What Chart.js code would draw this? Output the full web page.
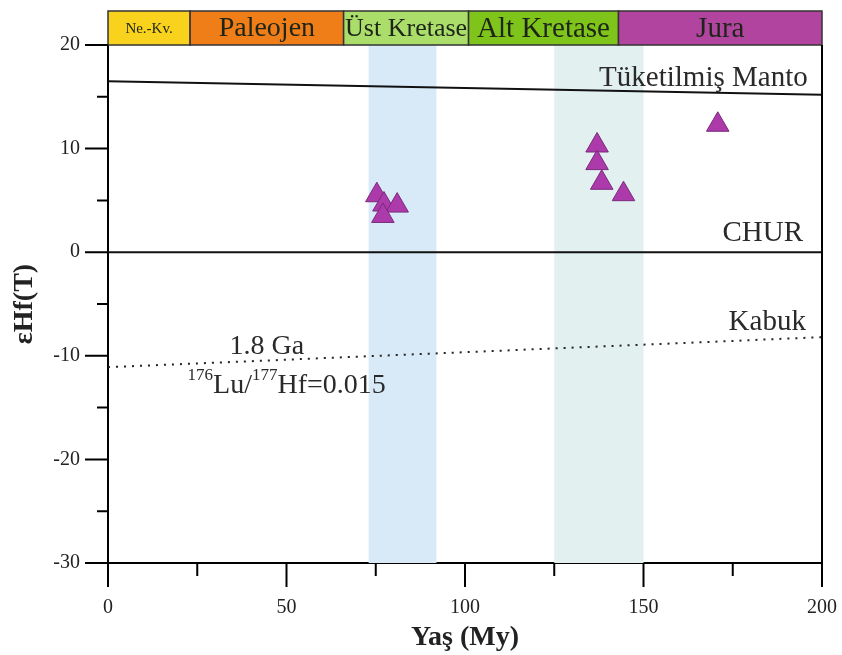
<!DOCTYPE html>
<html>
<head>
<meta charset="utf-8">
<script src="https://cdn.jsdelivr.net/npm/chart.js@4"></script>
<style>
  body { margin: 0; background: #fff; }
  #wrap { width: 842px; height: 655px; }
</style>
</head>
<body>
<div id="wrap"><canvas id="hfChart" width="842" height="655"></canvas></div>
<script>
// geological time bar
const periodNames = ['Ne.-Kv.', 'Paleojen', 'Üst Kretase', 'Alt Kretase', 'Jura'];
const periodFrom = [0, 23, 66, 101, 143];
const periodTo = [23, 66, 101, 143, 200];

// shaded age ranges
const bandFrom = [73, 125];
const bandTo = [92, 150];

// zircon samples
const ageMy = [75.3, 77.3, 81, 77, 137, 137, 138.3, 144.4, 170.8];
const epsilonHf = [5.5, 4.6, 4.5, 3.5, 10.3, 8.6, 6.7, 5.6, 12.3];

// reference evolution lines
const refAges = [0, 200];
const depletedMantle = [16.5, 15.2];
const chur = [0, 0];
const crust = [-11.1, -8.2];

const xTickLabels = [0, 50, 100, 150, 200];
const yTickLabels = [-30, -20, -10, 0, 10, 20];

const periodColors = ['#f8d21c', '#ef7e19', '#aadd69', '#7ec41b', '#b1449f'];
const periodFontSizes = [15, 28, 26, 29, 29];
const bandColors = ['#d8eaf7', '#e2f0ef'];
const serif = "'Liberation Serif', 'Times New Roman', serif";

const toPoints = (xs, ys) => xs.map((x, i) => ({ x: x, y: ys[i] }));

const decorPlugin = {
    id: 'decor',
    beforeDatasetsDraw(chart) {
        const { ctx, chartArea, scales: { x } } = chart;
        ctx.save();
        bandFrom.forEach((from, i) => {
            const x0 = x.getPixelForValue(from);
            const x1 = x.getPixelForValue(bandTo[i]);
            ctx.fillStyle = bandColors[i];
            ctx.fillRect(x0, chartArea.top, x1 - x0, chartArea.bottom - chartArea.top);
        });
        ctx.restore();
    },
    afterDraw(chart) {
        const { ctx, chartArea, scales: { x, y } } = chart;
        ctx.save();

        // time bar on top
        const barTop = 11;
        periodNames.forEach((name, i) => {
            const x0 = x.getPixelForValue(periodFrom[i]);
            const x1 = x.getPixelForValue(periodTo[i]);
            ctx.fillStyle = periodColors[i];
            ctx.fillRect(x0, barTop, x1 - x0, chartArea.top - barTop);
            ctx.strokeStyle = '#333';
            ctx.lineWidth = 1.5;
            ctx.strokeRect(x0, barTop, x1 - x0, chartArea.top - barTop);
            ctx.fillStyle = '#1d2418';
            ctx.font = periodFontSizes[i] + 'px ' + serif;
            ctx.textAlign = 'center';
            ctx.textBaseline = 'middle';
            ctx.fillText(name, (x0 + x1) / 2, (barTop + chartArea.top) / 2 + 1);
        });

        // right frame
        ctx.strokeStyle = '#000';
        ctx.lineWidth = 2;
        ctx.beginPath();
        ctx.moveTo(chartArea.right, chartArea.top);
        ctx.lineTo(chartArea.right, chartArea.bottom);
        ctx.stroke();

        // tick marks, long on labelled values
        ctx.lineWidth = 2;
        ctx.beginPath();
        for (let v = 0; v <= 200; v += 25) {
            const px = x.getPixelForValue(v);
            const len = xTickLabels.includes(v) ? 24 : 13;
            ctx.moveTo(px, chartArea.bottom);
            ctx.lineTo(px, chartArea.bottom + len);
        }
        for (let v = -30; v <= 20; v += 5) {
            const py = y.getPixelForValue(v);
            const len = yTickLabels.includes(v) ? 23 : 11;
            ctx.moveTo(chartArea.left, py);
            ctx.lineTo(chartArea.left - len, py);
        }
        ctx.stroke();

        // line labels
        ctx.fillStyle = '#2a2a2a';
        ctx.font = '29px ' + serif;
        ctx.textBaseline = 'alphabetic';
        ctx.textAlign = 'right';
        ctx.fillText('Tüketilmiş Manto', x.getPixelForValue(196), y.getPixelForValue(16.0));
        ctx.fillText('CHUR', x.getPixelForValue(194.7), y.getPixelForValue(1.1));
        ctx.fillText('Kabuk', x.getPixelForValue(195.5), y.getPixelForValue(-7.5));
        ctx.font = '28px ' + serif;
        ctx.textAlign = 'center';
        ctx.fillText('1.8 Ga', x.getPixelForValue(44.5), y.getPixelForValue(-9.8));

        // 176Lu/177Hf with superscripts
        ctx.textAlign = 'left';
        let px = x.getPixelForValue(22.3);
        const base = y.getPixelForValue(-13.6);
        const parts = [['176', true], ['Lu/', false], ['177', true], ['Hf=0.015', false]];
        parts.forEach(([t, sup]) => {
            ctx.font = (sup ? '17px ' : '28px ') + serif;
            ctx.fillText(t, px, sup ? base - 13 : base);
            px += ctx.measureText(t).width;
        });
        ctx.restore();
    }
};

new Chart(document.getElementById('hfChart').getContext('2d'), {
    type: 'scatter',
    data: {
        datasets: [
            {
                data: toPoints(refAges, depletedMantle),
                showLine: true,
                borderColor: '#111',
                borderWidth: 2,
                pointRadius: 0
            },
            {
                data: toPoints(refAges, chur),
                showLine: true,
                borderColor: '#111',
                borderWidth: 2,
                pointRadius: 0
            },
            {
                data: toPoints(refAges, crust),
                showLine: true,
                borderColor: '#222',
                borderWidth: 2,
                borderDash: [2, 6],
                pointRadius: 0
            },
            {
                data: toPoints(ageMy, epsilonHf),
                pointStyle: 'triangle',
                pointRadius: 13,
                backgroundColor: '#ad3aab',
                borderColor: '#7a2a7d',
                borderWidth: 1
            }
        ]
    },
    options: {
        responsive: false,
        animation: false,
        layout: {
            padding: { top: 45, right: 20, left: 0, bottom: 0 }
        },
        scales: {
            x: {
                type: 'linear',
                min: 0,
                max: 200,
                afterFit: (scale) => {
                    scale.height = 92;
                    scale.paddingLeft = 0;
                    scale.paddingRight = 0;
                },
                grid: { display: false, drawTicks: false },
                border: { display: true, color: '#000', width: 2 },
                ticks: {
                    stepSize: 50,
                    padding: 33,
                    color: '#222',
                    font: { family: serif, size: 20 }
                },
                title: {
                    display: true,
                    text: 'Yaş (My)',
                    color: '#222',
                    padding: { top: 0, bottom: 0 },
                    font: { family: serif, size: 28, weight: 'bold' }
                }
            },
            y: {
                type: 'linear',
                min: -30,
                max: 20,
                afterFit: (scale) => {
                    scale.width = 108;
                    scale.paddingTop = 0;
                    scale.paddingBottom = 0;
                },
                grid: { display: false, drawTicks: false },
                border: { display: true, color: '#000', width: 2 },
                ticks: {
                    stepSize: 10,
                    padding: 28,
                    color: '#222',
                    font: { family: serif, size: 20 }
                },
                title: {
                    display: true,
                    text: 'εHf(T)',
                    color: '#222',
                    padding: { top: 8, bottom: 0 },
                    font: { family: serif, size: 28, weight: 'bold' }
                }
            }
        },
        plugins: {
            legend: { display: false },
            tooltip: { enabled: false }
        }
    },
    plugins: [decorPlugin]
});
</script>
</body>
</html>
